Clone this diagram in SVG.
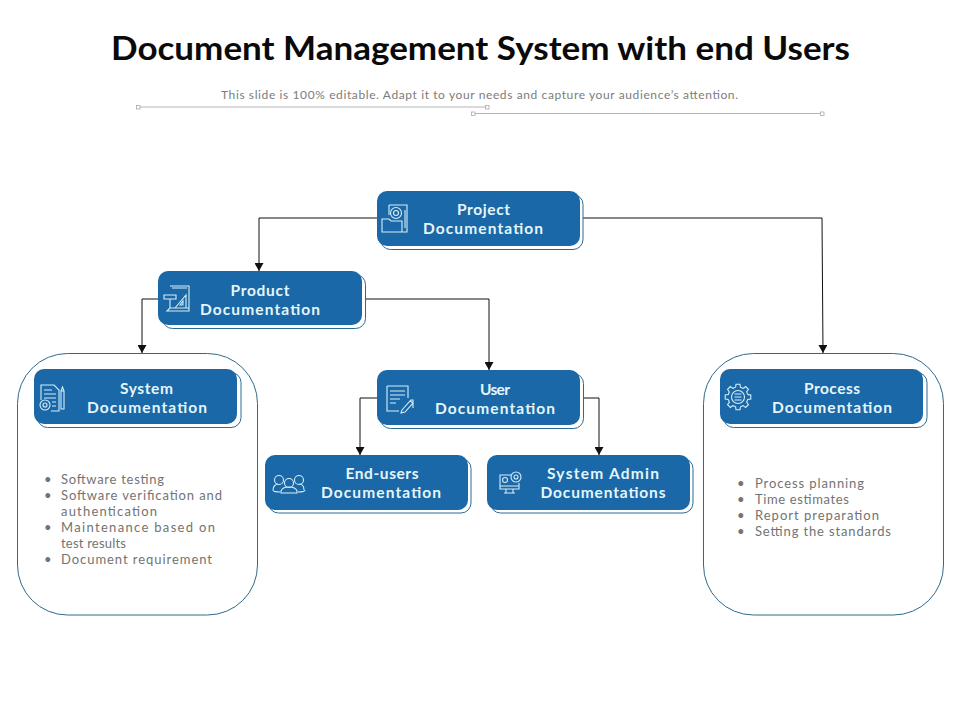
<svg xmlns="http://www.w3.org/2000/svg" width="960" height="720" viewBox="0 0 960 720">
<style>
text{font-variant-ligatures:none}
.title{font:700 32px Lato,"Liberation Sans",sans-serif;fill:#0a0a0a}
.sub{font:400 12px Lato,"Liberation Sans",sans-serif;fill:#7c7c7c}
.lab{font:700 15.500px Lato,"Liberation Sans",sans-serif;fill:#e4f6fb;text-anchor:middle}
.bul{font:400 13px Lato,"Liberation Sans",sans-serif;fill:#737373}
.back{fill:#fff;stroke:#2a6b96;stroke-width:1}
.face{fill:#1a68a7}
.panel{fill:#fff;stroke:#2f6a8a;stroke-width:1}
.conn{fill:none;stroke:#111;stroke-width:1}
.ic{fill:none;stroke:#d5eef7;stroke-width:1.100}
.rule{stroke:#b5b5b5;stroke-width:1;fill:none}
.hnd{fill:#fff;stroke:#aaa;stroke-width:.8}
</style>
<defs>
<marker id="arr" markerWidth="9" markerHeight="9" refX="8" refY="4.500" orient="auto" markerUnits="userSpaceOnUse"><path d="M0 0L8 4.500L0 9z" fill="#111"/></marker>
<path id="tooth" class="ic" d="M9.700 -2.400L12.800 -2L12.800 2L9.700 2.400A10 10 0 0 1 8.570 5.150"/>
<g id="gear">
<use href="#tooth"/><use href="#tooth" transform="rotate(45)"/><use href="#tooth" transform="rotate(90)"/><use href="#tooth" transform="rotate(135)"/>
<use href="#tooth" transform="rotate(180)"/><use href="#tooth" transform="rotate(225)"/><use href="#tooth" transform="rotate(270)"/><use href="#tooth" transform="rotate(315)"/>
</g>
</defs>
<text class="title" x="111" y="60" textLength="739" lengthAdjust="spacingAndGlyphs">Document Management System with end Users</text>
<text class="sub" x="221" y="99" textLength="517">This slide is 100% editable. Adapt it to your needs and capture your audience’s attention.</text>
<g id="rules">
<path class="rule" d="M138 107H487M473 113.500H822"/>
<rect class="hnd" x="136.500" y="105.500" width="3.500" height="3.500"/><rect class="hnd" x="485.500" y="105.500" width="3.500" height="3.500"/>
<rect class="hnd" x="471.500" y="112" width="3.500" height="3.500"/><rect class="hnd" x="820.500" y="112" width="3.500" height="3.500"/>
</g>
<g id="panel-left"><rect class="panel" x="17.500" y="353.500" width="240" height="261.500" rx="50"/></g>
<g id="panel-right"><rect class="panel" x="703.500" y="353.500" width="240" height="261.500" rx="50"/></g>
<g id="connectors">
<path class="conn" d="M377 218H259V271" marker-end="url(#arr)"/>
<path class="conn" d="M583 218H822L823 353" marker-end="url(#arr)"/>
<path class="conn" d="M158 299H142V353" marker-end="url(#arr)"/>
<path class="conn" d="M366 299H489V370" marker-end="url(#arr)"/>
<path class="conn" d="M377 398H360V455" marker-end="url(#arr)"/>
<path class="conn" d="M583 398H599V455" marker-end="url(#arr)"/>
</g>
<g id="node-project">
<rect class="back" x="380.500" y="194.500" width="202.500" height="55" rx="10"/><rect class="face" x="377" y="191" width="203" height="55" rx="10"/>
<path class="ic" d="M389 205h18v27h-5M389 205v10M382 219h7l2 2h11v11h-20zM405 210v18"/><circle class="ic" cx="396" cy="213" r="5.500"/><circle class="ic" cx="396" cy="213" r="2.500"/>
<text class="lab" x="483.500" y="214.500" textLength="53">Project</text>
<text class="lab" x="483" y="233.500" textLength="120">Documentation</text>
</g>
<g id="node-product">
<rect class="back" x="162.500" y="274.500" width="203" height="54" rx="10"/><rect class="face" x="158" y="271" width="204" height="54" rx="10"/>
<path class="ic" d="M170 286h19v22h-19M164 295h12v4h-12zM170 299v9l-3 3h22v-3M175 308l11-13v13zM172 288h15"/><path class="ic" d="M180 305l3-4v4z"/>
<text class="lab" x="260" y="295.500" textLength="59">Product</text>
<text class="lab" x="260" y="314.500" textLength="120">Documentation</text>
</g>
<g id="node-system">
<rect class="back" x="37.500" y="372.500" width="203.500" height="55" rx="10"/><rect class="face" x="34" y="369" width="203" height="55" rx="10"/>
<path class="ic" d="M41 400v-15h13l5 5v21h-8M44 390h8M44 394h12M44 398h12M52 402h4M52 406h4"/><circle class="ic" cx="45" cy="405" r="5"/><circle class="ic" cx="45" cy="405" r="2"/><path class="ic" d="M61 391h3v18h-3zM61 391l1.500-4 1.500 4"/>
<text class="lab" x="146.500" y="393.500" textLength="53">System</text>
<text class="lab" x="147" y="412.500" textLength="120">Documentation</text>
</g>
<g id="node-user">
<rect class="back" x="380.500" y="373.500" width="203" height="55" rx="10"/><rect class="face" x="377" y="370" width="203" height="55" rx="10"/>
<path class="ic" d="M387 386h21v12M387 386v25h12M390 391h15M390 395h15M390 399h10M390 403h6M402 410l8-9 3 2-8 9-4 1zM410 401l1-1h2v8"/>
<text class="lab" x="495" y="394.500" textLength="30">User</text>
<text class="lab" x="495" y="413.500" textLength="120">Documentation</text>
</g>
<g id="node-endusers">
<rect class="back" x="268.500" y="458.500" width="202.500" height="54.500" rx="10"/><rect class="face" x="265" y="455" width="203" height="55" rx="10"/>
<circle class="ic" cx="279" cy="480" r="4.500"/><circle class="ic" cx="289" cy="483" r="4.500"/><circle class="ic" cx="299" cy="480" r="4.500"/>
<path class="ic" d="M273 490c0-4 3-6 5-6M304 490c0-4-2-6-5-6M273 490c0 2 3 2 7 2M305 490c0 2-3 2-7 2M281 491c1-3 4-4 8-4s7 1 8 4v2h-16z"/>
<text class="lab" x="382" y="478.500" textLength="73">End-users</text>
<text class="lab" x="381" y="497.500" textLength="120">Documentation</text>
</g>
<g id="node-admin">
<rect class="back" x="490.500" y="458.500" width="202.500" height="54.500" rx="10"/><rect class="face" x="487" y="455" width="203" height="55" rx="10"/>
<path class="ic" d="M511 475h-11v14h19v-6M500 486h19M506 489v4M513 489v4M504 493h11"/><circle class="ic" cx="505" cy="480" r="2.500"/><circle class="ic" cx="516" cy="477" r="5"/><circle class="ic" cx="516" cy="477" r="2"/>
<text class="lab" x="603" y="478.500" textLength="112">System Admin</text>
<text class="lab" x="603" y="497.500" textLength="125">Documentations</text>
</g>
<g id="node-process">
<rect class="back" x="723.500" y="372.500" width="203.500" height="55" rx="10"/><rect class="face" x="720" y="369" width="203" height="55" rx="10"/>
<use href="#gear" transform="translate(738 397)"/><circle class="ic" cx="738" cy="397" r="6.500"/><path class="ic" d="M734.500 394h7M734.500 397h7M734.500 400h7"/>
<text class="lab" x="832" y="393.500" textLength="56">Process</text>
<text class="lab" x="832" y="412.500" textLength="120">Documentation</text>
</g>
<g id="list-system">
<text class="bul" x="44" y="484">•</text><text class="bul" x="61" y="484" textLength="103">Software testing</text>
<text class="bul" x="44" y="500">•</text><text class="bul" x="61" y="500" textLength="161">Software verification and</text>
<text class="bul" x="61" y="516" textLength="96">authentication</text>
<text class="bul" x="44" y="532">•</text><text class="bul" x="61" y="532" textLength="154">Maintenance  based on</text>
<text class="bul" x="61" y="548" textLength="65">test results</text>
<text class="bul" x="44" y="564">•</text><text class="bul" x="61" y="564" textLength="151">Document requirement</text>
</g>
<g id="list-process">
<text class="bul" x="737" y="488">•</text><text class="bul" x="755" y="488" textLength="109">Process planning</text>
<text class="bul" x="737" y="504">•</text><text class="bul" x="755" y="504" textLength="94">Time estimates</text>
<text class="bul" x="737" y="520">•</text><text class="bul" x="755" y="520" textLength="124">Report preparation</text>
<text class="bul" x="737" y="536">•</text><text class="bul" x="755" y="536" textLength="136">Setting the standards</text>
</g>
</svg>
